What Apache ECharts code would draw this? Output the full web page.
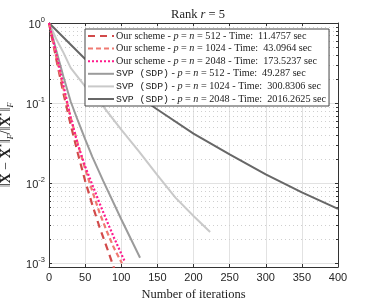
<!DOCTYPE html>
<html>
<head>
<meta charset="utf-8">
<script src="https://cdn.jsdelivr.net/npm/echarts@6/dist/echarts.min.js"></script>
<style>html,body{margin:0;padding:0;background:#fff}#c{width:374px;height:301px}</style>
</head>
<body>
<div id="c"></div>
<script>
// ---- data (log10 of relative error) ----
const ours512X = [0, 10, 20, 30, 40, 50, 60, 70, 80, 90];
const ours512L = [0, -0.45, -0.88, -1.27, -1.63, -1.97, -2.27, -2.55, -2.80, -3.06];
const ours1024X = [0, 10, 20, 30, 40, 50, 60, 70, 80, 90, 101];
const ours1024L = [0, -0.42, -0.82, -1.18, -1.51, -1.82, -2.10, -2.37, -2.60, -2.81, -3.00];
const ours2048X = [0, 10, 20, 30, 40, 50, 60, 70, 80, 90, 105];
const ours2048L = [0, -0.38, -0.78, -1.18, -1.52, -1.79, -2.02, -2.25, -2.47, -2.68, -2.98];
const svp512X = [0, 10, 20, 30, 40, 50, 60, 75, 100, 126];
const svp512L = [0, -0.34, -0.67, -0.98, -1.22, -1.45, -1.67, -1.97, -2.45, -2.93];
const svp1024X = [0, 10, 20, 30, 50, 75, 100, 125, 150, 175, 200, 223];
const svp1024L = [0, -0.20, -0.37, -0.56, -0.79, -1.04, -1.33, -1.61, -1.90, -2.18, -2.41, -2.61];
const svp2048X = [0, 50, 100, 150, 200, 250, 300, 350, 400];
const svp2048L = [0, -0.45, -0.77, -1.08, -1.38, -1.64, -1.89, -2.115, -2.32];

const seriesNames = [
  'Our scheme - p = n = 512 - Time: 11.4757 sec',
  'Our scheme - p = n = 1024 - Time: 43.0964 sec',
  'Our scheme - p = n = 2048 - Time: 173.5237 sec',
  'SVP (SDP) - p = n = 512 - Time: 49.287 sec',
  'SVP (SDP) - p = n = 1024 - Time: 300.8306 sec',
  'SVP (SDP) - p = n = 2048 - Time: 2016.2625 sec'
];
const xTicks = [0, 50, 100, 150, 200, 250, 300, 350, 400];
const yMajor = [1e-3, 1e-2, 1e-1, 1];
const yMinor = [];
[1e-3, 1e-2, 1e-1].forEach(d => { for (let k = 2; k <= 9; k++) yMinor.push(+(k * d).toPrecision(3)); });

function pts(xs, ls) { return xs.map((x, i) => [x, Math.pow(10, ls[i])]); }

const serif = '"Liberation Serif", "DejaVu Serif", serif';
const sans = '"Liberation Sans", Arial, sans-serif';
const mono = '"Liberation Mono", "DejaVu Sans Mono", monospace';

const chart = echarts.init(document.getElementById('c'), null, {renderer: 'canvas'});

function legendFmt(name) {
  const m = name.match(/^(Our scheme|SVP \(SDP\)) - p = n = (\d+) - Time: (.*)$/);
  const head = m[1].startsWith('SVP') ? '{m|SVP (SDP)}' : '{t|Our scheme}';
  return head + '{t| - }{i|p}{t| = }{i|n}{t| = ' + m[2] + ' - Time:  ' + m[3] + '}';
}

const axisCol = '#333333';
const gridCol = '#e2e2e2';

const option = {
  animation: false,
  backgroundColor: '#fff',
  title: {
    text: '{t|Rank }{i|r}{t| = 5}',
    left: 193, top: 3, textAlign: 'center',
    textStyle: {
      fontWeight: 'normal',
      rich: {
        t: {fontFamily: serif, fontSize: 12.5, fontWeight: 'normal', color: '#222'},
        i: {fontFamily: serif, fontSize: 12.5, fontWeight: 'normal', fontStyle: 'italic', color: '#222'}
      }
    }
  },
  grid: {left: 49, right: 36, top: 23, bottom: 34, containLabel: false, outerBoundsMode: 'none'},
  legend: {
    orient: 'vertical', left: 85, top: 29,
    itemWidth: 26, itemHeight: 10, itemGap: 2.6,
    backgroundColor: '#fff', borderColor: '#444', borderWidth: 1,
    padding: [2, 3, 2, 2],
    data: seriesNames,
    formatter: legendFmt,
    itemStyle: {opacity: 0},
    textStyle: {
      padding: [0, 0, 0, -3],
      rich: {
        t: {fontFamily: serif, fontSize: 10.2, color: '#222'},
        i: {fontFamily: serif, fontSize: 10.2, fontStyle: 'italic', color: '#222'},
        m: {fontFamily: mono, fontSize: 9.8, color: '#222'}
      }
    }
  },
  xAxis: [{
    type: 'value', position: 'bottom', min: 0, max: 400, interval: 50,
    name: 'Number of iterations', nameLocation: 'middle', nameGap: 20,
    nameTextStyle: {fontFamily: serif, fontSize: 12.5, color: '#222'},
    axisLine: {show: true, onZero: false, lineStyle: {color: axisCol, width: 1}},
    axisTick: {show: true, inside: true, length: 3, lineStyle: {color: axisCol}},
    axisLabel: {fontFamily: sans, fontSize: 11, color: '#262626', margin: 5},
    splitLine: {show: true, lineStyle: {color: gridCol, width: 1}}
  }, {
    type: 'value', position: 'top', min: 0, max: 400, interval: 50,
    axisLine: {show: true, onZero: false, lineStyle: {color: axisCol, width: 1}},
    axisTick: {show: true, inside: true, length: 3, lineStyle: {color: axisCol}},
    axisLabel: {show: false}, splitLine: {show: false}
  }],
  yAxis: [{
    type: 'log', logBase: 10, min: 0.0009, max: 1, position: 'left',
    name: '{n|‖}{b|X̂}{n| − }{b|X}{s|⋆}{n|‖}{f|F}{n|/‖}{b|X}{s|⋆}{n|‖}{f|F}',
    nameLocation: 'middle', nameRotate: 90, nameGap: 30,
    nameTextStyle: {
      rich: {
        n: {fontFamily: serif, fontSize: 14, color: '#222', lineHeight: 18, verticalAlign: 'middle'},
        b: {fontFamily: serif, fontSize: 14, fontWeight: 'bold', color: '#222', lineHeight: 18, verticalAlign: 'middle'},
        s: {fontFamily: serif, fontSize: 8, color: '#222', lineHeight: 18, verticalAlign: 'top'},
        f: {fontFamily: serif, fontSize: 8, fontStyle: 'italic', color: '#222', lineHeight: 18, verticalAlign: 'bottom'}
      }
    },
    axisLine: {show: true, onZero: false, lineStyle: {color: axisCol, width: 1}},
    axisTick: {show: true, inside: true, length: 3, lineStyle: {color: axisCol}},
    axisLabel: {
      showMinLabel: false, margin: 4,
      formatter: v => '{b|10}{s|' + Math.round(Math.log10(v)) + '}',
      rich: {
        b: {fontFamily: sans, fontSize: 11, color: '#262626', lineHeight: 14, verticalAlign: 'bottom'},
        s: {fontFamily: sans, fontSize: 7.5, color: '#262626', lineHeight: 14, verticalAlign: 'top'}
      }
    },
    splitLine: {show: true, lineStyle: {color: gridCol, width: 1}}
  }, {
    type: 'log', logBase: 10, min: 0.0009, max: 1, position: 'right',
    axisLine: {show: true, onZero: false, lineStyle: {color: axisCol, width: 1}},
    axisTick: {show: true, inside: true, length: 3, lineStyle: {color: axisCol}},
    axisLabel: {show: false}, splitLine: {show: false}
  }],
  series: [
    {
      type: 'custom', name: 'minor', silent: true, z: 1, clip: true,
      xAxisIndex: 0, yAxisIndex: 0,
      data: yMinor.map(v => [0, v]),
      renderItem: function (params, api) {
        const cs = params.coordSys;
        const y = Math.round(api.coord([0, api.value(1)])[1]) + 0.5;
        return {
          type: 'group', children: [
            {type: 'line', shape: {x1: cs.x, y1: y, x2: cs.x + cs.width, y2: y},
             style: {stroke: '#cfcfcf', lineWidth: 1, lineDash: [1, 3]}},
            {type: 'line', shape: {x1: cs.x, y1: y, x2: cs.x + 2, y2: y},
             style: {stroke: axisCol, lineWidth: 1}},
            {type: 'line', shape: {x1: cs.x + cs.width - 2, y1: y, x2: cs.x + cs.width, y2: y},
             style: {stroke: axisCol, lineWidth: 1}}
          ]
        };
      }
    },
    {name: seriesNames[3], type: 'line', data: pts(svp512X, svp512L), symbol: 'none', z: 3,
     lineStyle: {color: '#9b9b9b', width: 2}, itemStyle: {color: '#9b9b9b'}},
    {name: seriesNames[4], type: 'line', data: pts(svp1024X, svp1024L), symbol: 'none', z: 3,
     lineStyle: {color: '#c9c9c9', width: 2}, itemStyle: {color: '#c9c9c9'}},
    {name: seriesNames[5], type: 'line', data: pts(svp2048X, svp2048L), symbol: 'none', z: 3,
     lineStyle: {color: '#676767', width: 2}, itemStyle: {color: '#676767'}},
    {name: seriesNames[0], type: 'line', data: pts(ours512X, ours512L), symbol: 'none', z: 4,
     lineStyle: {color: '#d24a4a', width: 2.2, type: [7, 5]}, itemStyle: {color: '#d24a4a'}},
    {name: seriesNames[1], type: 'line', data: pts(ours1024X, ours1024L), symbol: 'none', z: 4,
     lineStyle: {color: '#f07a72', width: 2.2, type: [5, 3]}, itemStyle: {color: '#f07a72'}},
    {name: seriesNames[2], type: 'line', data: pts(ours2048X, ours2048L), symbol: 'none', z: 4,
     lineStyle: {color: '#ff1a8c', width: 2.2, type: [2, 2]}, itemStyle: {color: '#ff1a8c'}}
  ]
};
chart.setOption(option);
</script>
</body>
</html>
